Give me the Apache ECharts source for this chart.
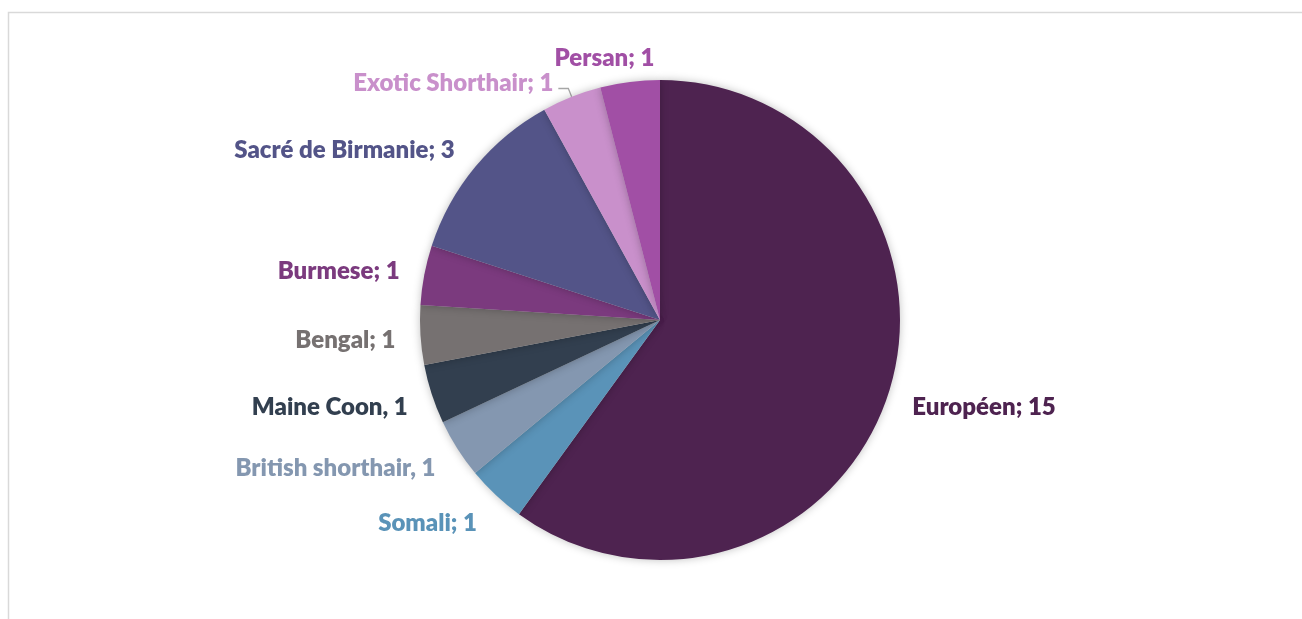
<!DOCTYPE html>
<html>
<head>
<meta charset="utf-8">
<title>Races de chats</title>
<script src="https://cdn.jsdelivr.net/npm/echarts@6/dist/echarts.min.js"></script>
<style>
  html, body { margin:0; padding:0; background:#fff; }
  #chart { width:1302px; height:619px; }
</style>
</head>
<body>
<div id="chart"></div>
<script>
// données
var breeds = ['Européen', 'Somali', 'British shorthair', 'Maine Coon', 'Bengal', 'Burmese', 'Sacré de Birmanie', 'Exotic Shorthair', 'Persan'];
var counts = [15, 1, 1, 1, 1, 1, 3, 1, 1];
var separators = [';', ';', ',', ',', ';', ';', ';', ';', ';'];
var colors = ['#4e2350', '#5a93b8', '#8497b0', '#323f4f', '#767171', '#7b3a7e', '#535488', '#c990cb', '#a14fa5'];

var pieData = [];
for (var i = 0; i < breeds.length; i++) {
  var item = {
    name: breeds[i],
    value: counts[i],
    sep: separators[i],
    itemStyle: { color: colors[i] },
    label: { color: colors[i] }
  };
  if (breeds[i] == 'Exotic Shorthair') {
    item.labelLine = { show: true, length: 9, length2: 10, lineStyle: { color: '#a6a6a6', width: 1.3 } };
  }
  pieData.push(item);
}

var chart = echarts.init(document.getElementById('chart'));
chart.setOption({
  animation: false,
  graphic: [{
    type: 'rect',
    silent: true,
    shape: { x: 8.5, y: 12.5, width: 1500, height: 800 },
    style: { fill: 'none', stroke: '#d9d9d9', lineWidth: 1.5 }
  }],
  series: [{
    type: 'pie',
    center: [660, 320],
    radius: 240,
    startAngle: 90,
    clockwise: true,
    data: pieData,
    itemStyle: {
      borderWidth: 0,
      shadowBlur: 8,
      shadowColor: 'rgba(0,0,0,0.25)'
    },
    label: {
      show: true,
      position: 'outside',
      fontFamily: 'Lato',
      fontWeight: 800,
      fontSize: 24,
      formatter: function (p) {
        return p.name + p.data.sep + ' ' + p.value;
      }
    },
    labelLine: {
      show: false,
      length: 20,
      length2: 0
    },
    labelLayout: function (p) {
      // petits décalages pour coller au placement d'origine
      if (p.dataIndex == 8) return { dx: 32, dy: -4 };
      if (p.dataIndex == 7) return { dy: -5 };
      if (p.dataIndex == 6) return { dy: -4 };
      if (p.dataIndex == 5) return { dy: 0 };
      if (p.dataIndex == 4) return { dy: 4 };
      if (p.dataIndex == 1) return { dy: 14 };
      if (p.dataIndex == 2) return { dy: 9 };
      return { dy: 7 };
    }
  }]
});
</script>
</body>
</html>
